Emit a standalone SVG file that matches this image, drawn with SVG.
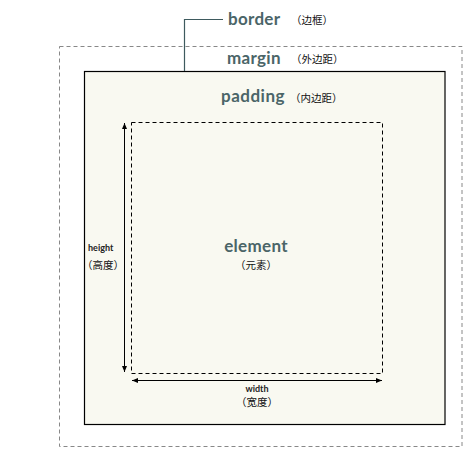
<svg xmlns="http://www.w3.org/2000/svg" width="463" height="450" viewBox="0 0 463 450">
<defs>
<style>
.lbl{font-family:Lato,"Noto Sans",sans-serif;font-weight:bold;fill:#4b6568}
.cn{font-family:"Noto Sans CJK SC",sans-serif;font-size:10.5px;fill:#111}
.sm{font-family:Lato,"Noto Sans",sans-serif;font-weight:bold;font-size:9px;fill:#222}
</style>
<marker id="ah" viewBox="0 0 6 6" refX="6" refY="3" markerWidth="6" markerHeight="6" markerUnits="userSpaceOnUse" orient="auto-start-reverse">
<path d="M0,0.5 L6,3 L0,5.5 Z" fill="#000"/>
</marker>
</defs>
<rect width="463" height="450" fill="#fff"/>
<g id="margin">
<rect x="59.5" y="46.5" width="402.5" height="400" fill="none" stroke="#888" stroke-width="1" stroke-dasharray="4,3"/>
<text class="lbl" x="227" y="64" font-size="17" letter-spacing="0.3">margin</text>
<text class="cn" x="291" y="63">（外边距）</text>
</g>
<g id="border">
<rect x="84.5" y="71.5" width="360.5" height="353" fill="#f9f9f1" stroke="#000" stroke-width="1.2"/>
<text class="lbl" x="228" y="25" font-size="17" letter-spacing="0.3">border</text>
<text class="cn" x="291" y="24">（边框）</text>
</g>
<g id="padding">
<text class="lbl" x="221" y="102" font-size="17" letter-spacing="0.5">padding</text>
<text class="cn" x="290" y="102">（内边距）</text>
</g>
<g id="element">
<rect x="131.5" y="122.5" width="251" height="251" fill="none" stroke="#000" stroke-width="1" stroke-dasharray="4,3"/>
<text class="lbl" x="256" y="252" font-size="17" text-anchor="middle" letter-spacing="0.3">element</text>
<text class="cn" x="256" y="269" text-anchor="middle">（元素）</text>
</g>
<g id="height">
<text class="sm" x="88" y="251">height</text>
<text class="cn" x="103" y="269" text-anchor="middle">（高度）</text>
</g>
<g id="width">
<text class="sm" x="257" y="392" text-anchor="middle">width</text>
<text class="cn" x="257" y="406" text-anchor="middle">（宽度）</text>
</g>
<g id="connectors">
<polyline points="184.5,71 184.5,19.5 223,19.5" fill="none" stroke="#3e5a5e" stroke-width="1.2"/>
<line x1="124.5" y1="123" x2="124.5" y2="372" stroke="#000" stroke-width="1" marker-start="url(#ah)" marker-end="url(#ah)"/>
<line x1="132" y1="380.5" x2="382" y2="380.5" stroke="#000" stroke-width="1" marker-start="url(#ah)" marker-end="url(#ah)"/>
</g>
</svg>
